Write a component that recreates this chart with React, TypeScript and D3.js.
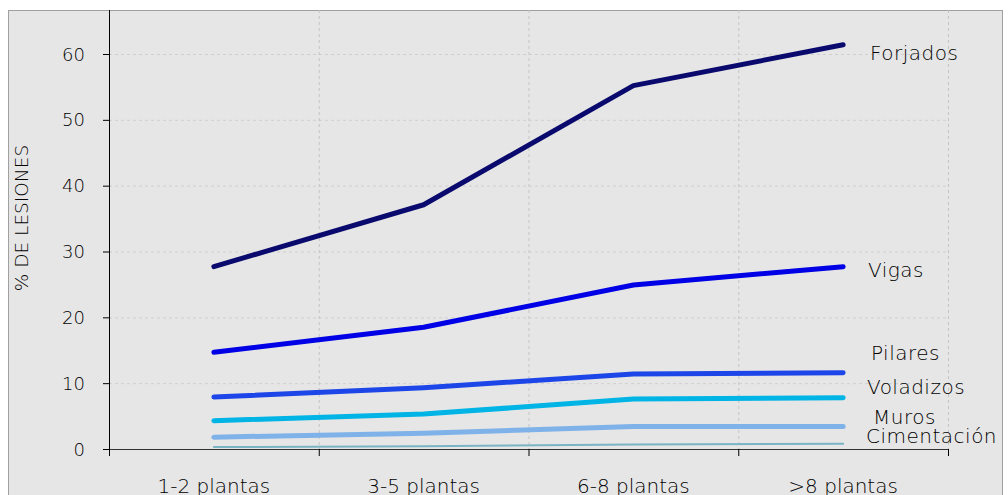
import React from "react";
import * as d3 from "d3";

const categories = ["1-2 plantas", "3-5 plantas", "6-8 plantas", ">8 plantas"];
const seriesNames = ["Forjados", "Vigas", "Pilares", "Voladizos", "Muros", "Cimentación"];
const forjados = [27.7, 37.1, 55.2, 61.4];
const vigas = [14.7, 18.5, 24.9, 27.7];
const pilares = [7.9, 9.3, 11.4, 11.6];
const voladizos = [4.3, 5.3, 7.6, 7.8];
const muros = [1.8, 2.4, 3.4, 3.4];
const cimentacion = [0.3, 0.4, 0.7, 0.8];
const yTicks = [0, 10, 20, 30, 40, 50, 60];

const seriesValues = [forjados, vigas, pilares, voladizos, muros, cimentacion];
const colors = ["#0a0a6e", "#0000e6", "#1c46e8", "#00b4e6", "#7fb2e8", "#7ab4c4"];
const widths = [5, 5, 5, 5, 5, 2];
const labelPos = [
  { x: 870, y: 60 },
  { x: 868, y: 277 },
  { x: 871, y: 360 },
  { x: 867, y: 394 },
  { x: 873, y: 424 },
  { x: 866, y: 443 },
];

const FONT = "'DejaVu Sans', sans-serif";
const WEIGHT = 300;

export default function App() {
  const W = 1008, H = 495;
  const left = 109, right = 948, top = 10, y0 = 449;
  const x = d3.scaleBand().domain(categories).range([left, right]).padding(0);
  const y = d3.scaleLinear().domain([0, 60]).range([y0, 54]);
  const line = d3.line<number>()
    .x((_, i) => (x(categories[i]) as number) + x.bandwidth() / 2)
    .y((d) => y(d))
    .curve(d3.curveLinear);
  const boundaries = categories.map((c) => x(c) as number).concat([right]);

  return (
    <svg width={W} height={H} style={{ position: "absolute", left: 0, top: 0, display: "block" }}>
      <rect x={0} y={0} width={W} height={H} fill="#ffffff" />
      <rect x={8.5} y={10.5} width={994} height={H} fill="#e6e6e6" stroke="#a0a0a0" strokeWidth={1} />
      {yTicks.filter((t) => t > 0).map((t) => (
        <line key={"hg" + t} x1={left} x2={right} y1={y(t) + 0.5} y2={y(t) + 0.5} stroke="#cfcfcf" strokeDasharray="3,3" />
      ))}
      {boundaries.slice(1).map((b, i) => (
        <line key={"vg" + i} x1={b + 0.5} x2={b + 0.5} y1={top} y2={y0} stroke="#c4c4c4" strokeDasharray="3,3" />
      ))}
      <line x1={left + 0.5} x2={left + 0.5} y1={top} y2={y0 + 6} stroke="#000" strokeWidth={1} />
      <line x1={left - 6} x2={right + 1} y1={y0 + 0.5} y2={y0 + 0.5} stroke="#333" strokeWidth={1.2} />
      {yTicks.map((t) => (
        <g key={"yt" + t}>
          <line x1={left - 6} x2={left} y1={y(t) + 0.5} y2={y(t) + 0.5} stroke="#000" />
          <text x={85} y={y(t) + 6.5} textAnchor="end" fontFamily={FONT} fontWeight={WEIGHT} fontSize={18} fill="#000">{t}</text>
        </g>
      ))}
      {boundaries.map((b, i) => (
        <line key={"xt" + i} x1={b + 0.5} x2={b + 0.5} y1={y0} y2={y0 + 7} stroke="#000" />
      ))}
      {categories.map((c) => (
        <text key={c} x={(x(c) as number) + x.bandwidth() / 2} y={493} textAnchor="middle" fontFamily={FONT} fontWeight={WEIGHT} fontSize={20} fill="#000">{c}</text>
      ))}
      <text transform={`translate(28,218) rotate(-90)`} textAnchor="middle" fontFamily={FONT} fontWeight={WEIGHT} fontSize={18.5} fill="#000">% DE LESIONES</text>
      {seriesValues.map((vals, i) => (
        <path key={seriesNames[i]} d={line(vals) as string} fill="none" stroke={colors[i]} strokeWidth={widths[i]} strokeLinecap="round" strokeLinejoin="round" />
      ))}
      {seriesNames.map((n, i) => (
        <text key={"lbl" + n} x={labelPos[i].x} y={labelPos[i].y} fontFamily={FONT} fontWeight={WEIGHT} fontSize={20} letterSpacing={0.5} fill="#000">{n}</text>
      ))}
    </svg>
  );
}
